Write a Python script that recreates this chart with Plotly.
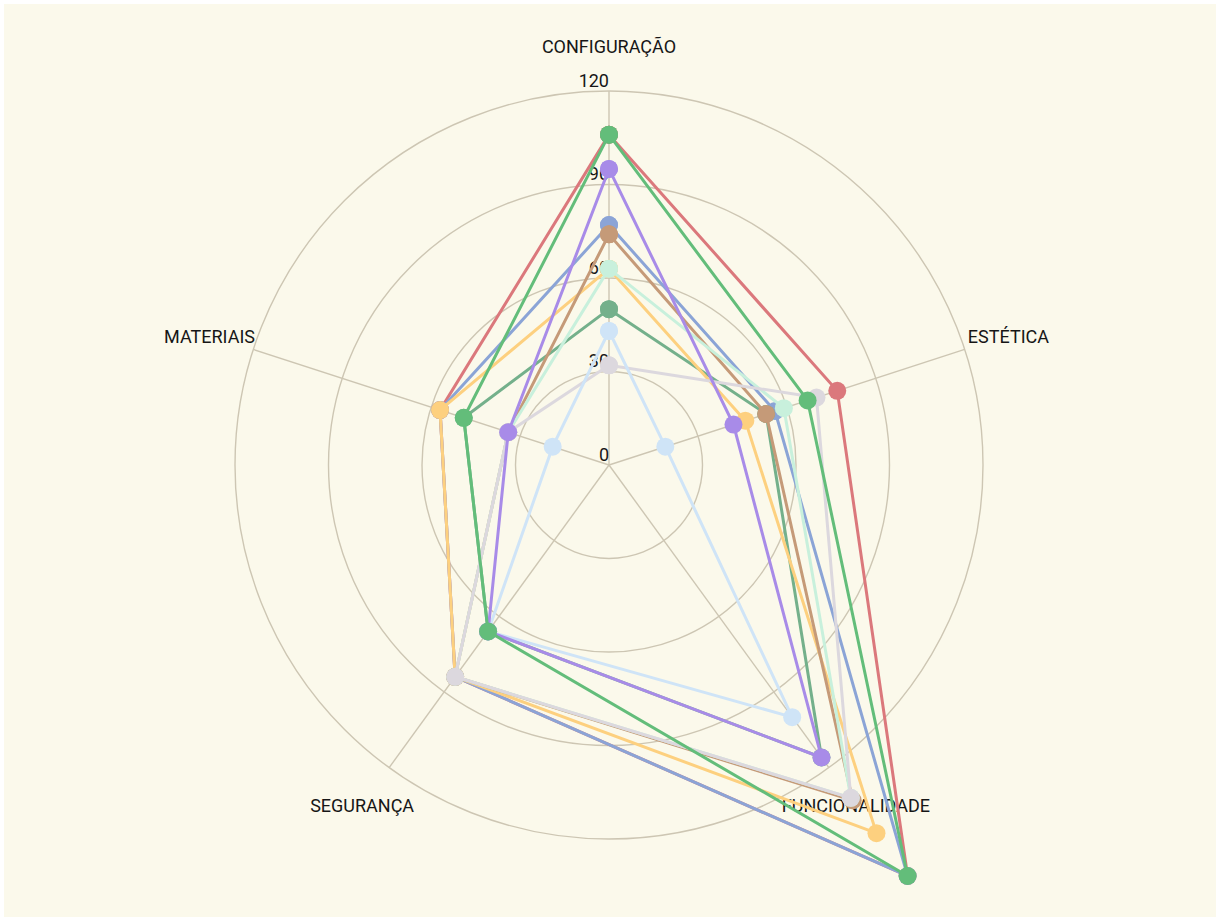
import math
import plotly.graph_objects as go

# --- data -------------------------------------------------------------
CATEGORIES = ["CONFIGURAÇÃO", "ESTÉTICA", "FUNCIONALIDADE", "SEGURANÇA", "MATERIAIS"]
RADIAL_TICKS = [0, 30, 60, 90, 120]

serie_vermelha = [106, 77, 163, 84, 57]
serie_azul = [77, 56, 163, 84, 57]
serie_verde_escura = [50, 53, 116, 66, 49]
serie_laranja = [63, 46, 146, 84, 57]
serie_castanha = [74, 53, 133, 84, 34]
serie_menta = [63, 59, 132, 84, 34]
serie_cinza = [32, 70, 132, 84, 34]
serie_azul_clara = [43, 19, 100, 66, 19]
serie_roxa = [95, 42, 116, 66, 34]
serie_verde = [106, 67, 163, 66, 49]

SERIES = [
    ("Série 1", serie_vermelha, "#db787c"),
    ("Série 2", serie_azul, "#8ba4d6"),
    ("Série 3", serie_verde_escura, "#74b08b"),
    ("Série 4", serie_laranja, "#fdd07f"),
    ("Série 5", serie_castanha, "#c59a78"),
    ("Série 6", serie_menta, "#c8f0dc"),
    ("Série 7", serie_cinza, "#dcd8de"),
    ("Série 8", serie_azul_clara, "#cfe4f7"),
    ("Série 9", serie_roxa, "#a88be8"),
    ("Série 10", serie_verde, "#63bd7a"),
]

# --- geometry of the radar ---------------------------------------------
W, H = 1220, 921
CX, CY = 609, 465          # centre of the radar, in pixels
R_PX = 374                 # pixel radius of the outer ring
RMAX = RADIAL_TICKS[-1]
PPU = R_PX / RMAX          # pixels per data unit
LABEL_R = RMAX * 1.123     # radius where the indicator names sit
LABEL_DROP_PX = 3          # small downward nudge of the indicator names

BG = "#fbf9eb"
GRID = "#cdc6b3"
TEXT = "#161616"
N = len(CATEGORIES)
ANGLES = [2 * math.pi * i / N for i in range(N)]   # clockwise from the top


def to_xy(values):
    xs = [v * math.sin(a) for v, a in zip(values, ANGLES)]
    ys = [v * math.cos(a) for v, a in zip(values, ANGLES)]
    return xs + xs[:1], ys + ys[:1]


fig = go.Figure()

# indicator names
fig.add_trace(go.Scatter(
    x=[LABEL_R * math.sin(a) for a in ANGLES],
    y=[LABEL_R * math.cos(a) - LABEL_DROP_PX / PPU for a in ANGLES],
    mode="text", text=CATEGORIES, textposition="middle center",
    textfont=dict(family="Roboto", size=18, color=TEXT),
    hoverinfo="skip", showlegend=False, cliponaxis=False,
))

# radial tick labels along the top spoke
fig.add_trace(go.Scatter(
    x=[0] * len(RADIAL_TICKS), y=RADIAL_TICKS,
    mode="text", text=[str(t) for t in RADIAL_TICKS], textposition="top left",
    textfont=dict(family="Roboto", size=18, color=TEXT),
    hoverinfo="skip", showlegend=False, cliponaxis=False,
))

for name, vals, color in SERIES:
    xs, ys = to_xy(vals)
    fig.add_trace(go.Scatter(
        x=xs, y=ys, name=name, mode="lines+markers",
        line=dict(color=color, width=3),
        marker=dict(color=color, size=18, line=dict(width=0)),
        customdata=vals + vals[:1],
        text=CATEGORIES + CATEGORIES[:1],
        hovertemplate="%{text}: %{customdata}<extra>" + name + "</extra>",
        cliponaxis=False,
    ))

shapes = [dict(type="rect", xref="paper", yref="paper",
               x0=4 / W, x1=1 - 4 / W, y0=4 / H, y1=1 - 4 / H,
               fillcolor=BG, line=dict(width=0), layer="below")]
for t in RADIAL_TICKS:
    if t > 0:
        shapes.append(dict(type="circle", xref="x", yref="y",
                           x0=-t, x1=t, y0=-t, y1=t,
                           line=dict(color=GRID, width=1.4), layer="below"))
for a in ANGLES:
    shapes.append(dict(type="line", xref="x", yref="y",
                       x0=0, y0=0, x1=RMAX * math.sin(a), y1=RMAX * math.cos(a),
                       line=dict(color=GRID, width=1.4), layer="below"))

fig.update_layout(
    width=W, height=H,
    margin=dict(l=0, r=0, t=0, b=0),
    paper_bgcolor="#ffffff", plot_bgcolor="rgba(0,0,0,0)",
    showlegend=False,
    shapes=shapes,
    xaxis=dict(range=[-CX / PPU, (W - CX) / PPU], visible=False,
               showgrid=False, zeroline=False, domain=[0, 1]),
    yaxis=dict(range=[-(H - CY) / PPU, CY / PPU], visible=False,
               showgrid=False, zeroline=False, domain=[0, 1]),
)

fig.write_html("out.html")
